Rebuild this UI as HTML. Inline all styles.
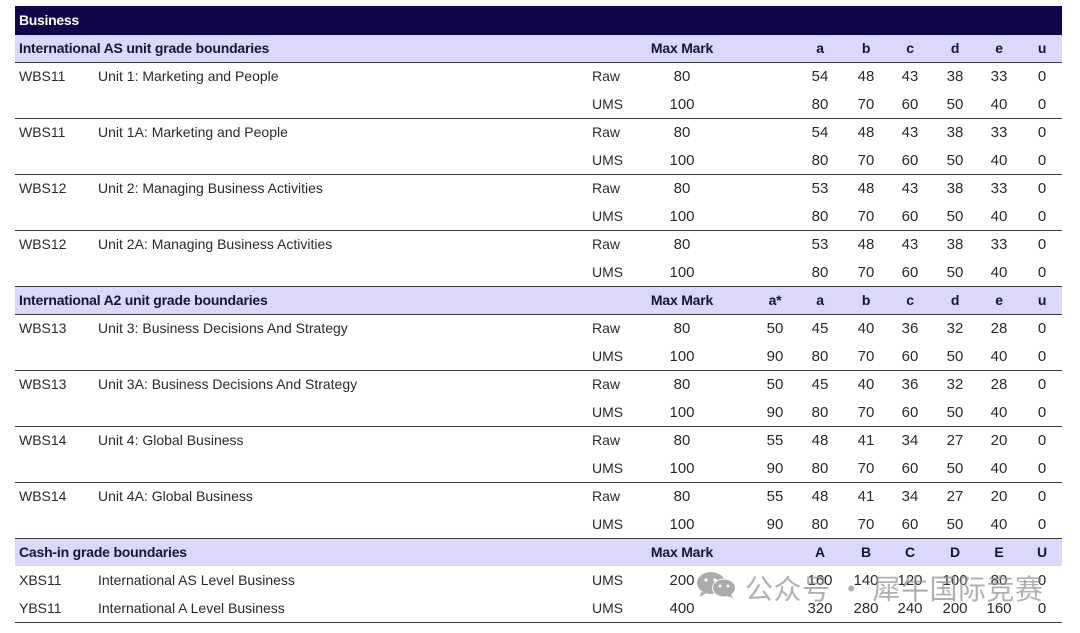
<!DOCTYPE html>
<html>
<head>
<meta charset="utf-8">
<style>
html,body{margin:0;padding:0;background:#fff;}
body{width:1080px;height:633px;position:relative;overflow:hidden;font-family:"Liberation Sans","Noto Sans CJK SC",sans-serif;color:#2a2a2a;font-size:14px;}
.bar{position:absolute;left:15px;width:1047px;}
.navy{background:#0f0749;top:6px;height:29px;color:#fff;font-weight:bold;font-size:14px;line-height:29px;letter-spacing:-0.3px;}
.navy span{position:absolute;left:4px;top:0;}
.lav{background:#dcd8fb;height:27px;}
.ln{position:absolute;left:15px;width:1047px;height:1.6px;background:#3c3c3c;}
.r{position:absolute;left:0;width:1080px;height:28px;line-height:28px;}
.r span{position:absolute;top:0;white-space:nowrap;}
.h{font-weight:bold;color:#15143a;letter-spacing:-0.2px;}
.k{left:19px}.n{left:98px}.t{left:592px}
.m{left:642px;width:80px;text-align:center}
.s{left:745px;width:60px;text-align:center}
.a{left:790px;width:60px;text-align:center}
.b{left:836px;width:60px;text-align:center}
.c{left:880px;width:60px;text-align:center}
.d{left:925px;width:60px;text-align:center}
.e{left:969px;width:60px;text-align:center}
.u{left:1012px;width:60px;text-align:center}
.r:not(.h) span.m,.r:not(.h) span.s,.r:not(.h) span.a,.r:not(.h) span.b,.r:not(.h) span.c,.r:not(.h) span.d,.r:not(.h) span.e,.r:not(.h) span.u{font-size:15px;top:1px;}
.wm{position:absolute;left:745px;top:571px;font-family:"Noto Sans CJK SC",sans-serif;font-size:28px;line-height:34px;color:rgba(150,150,150,0.75);white-space:nowrap;letter-spacing:0.5px;}
</style>
</head>
<body>
<div class="bar navy"><span>Business</span></div>

<div class="bar lav" style="top:35px"></div>
<div class="r h" style="top:34px"><span class="k">International AS unit grade boundaries</span><span class="m">Max Mark</span><span class="a">a</span><span class="b">b</span><span class="c">c</span><span class="d">d</span><span class="e">e</span><span class="u">u</span></div>
<div class="ln" style="top:61.5px"></div>

<div class="r" style="top:62px"><span class="k">WBS11</span><span class="n">Unit 1: Marketing and People</span><span class="t">Raw</span><span class="m">80</span><span class="a">54</span><span class="b">48</span><span class="c">43</span><span class="d">38</span><span class="e">33</span><span class="u">0</span></div>
<div class="r" style="top:90px"><span class="t">UMS</span><span class="m">100</span><span class="a">80</span><span class="b">70</span><span class="c">60</span><span class="d">50</span><span class="e">40</span><span class="u">0</span></div>
<div class="ln" style="top:117.5px"></div>
<div class="r" style="top:118px"><span class="k">WBS11</span><span class="n">Unit 1A: Marketing and People</span><span class="t">Raw</span><span class="m">80</span><span class="a">54</span><span class="b">48</span><span class="c">43</span><span class="d">38</span><span class="e">33</span><span class="u">0</span></div>
<div class="r" style="top:146px"><span class="t">UMS</span><span class="m">100</span><span class="a">80</span><span class="b">70</span><span class="c">60</span><span class="d">50</span><span class="e">40</span><span class="u">0</span></div>
<div class="ln" style="top:173.5px"></div>
<div class="r" style="top:174px"><span class="k">WBS12</span><span class="n">Unit 2: Managing Business Activities</span><span class="t">Raw</span><span class="m">80</span><span class="a">53</span><span class="b">48</span><span class="c">43</span><span class="d">38</span><span class="e">33</span><span class="u">0</span></div>
<div class="r" style="top:202px"><span class="t">UMS</span><span class="m">100</span><span class="a">80</span><span class="b">70</span><span class="c">60</span><span class="d">50</span><span class="e">40</span><span class="u">0</span></div>
<div class="ln" style="top:229.5px"></div>
<div class="r" style="top:230px"><span class="k">WBS12</span><span class="n">Unit 2A: Managing Business Activities</span><span class="t">Raw</span><span class="m">80</span><span class="a">53</span><span class="b">48</span><span class="c">43</span><span class="d">38</span><span class="e">33</span><span class="u">0</span></div>
<div class="r" style="top:258px"><span class="t">UMS</span><span class="m">100</span><span class="a">80</span><span class="b">70</span><span class="c">60</span><span class="d">50</span><span class="e">40</span><span class="u">0</span></div>
<div class="ln" style="top:285.5px"></div>

<div class="bar lav" style="top:287px"></div>
<div class="r h" style="top:286px"><span class="k">International A2 unit grade boundaries</span><span class="m">Max Mark</span><span class="s">a*</span><span class="a">a</span><span class="b">b</span><span class="c">c</span><span class="d">d</span><span class="e">e</span><span class="u">u</span></div>
<div class="ln" style="top:313.5px"></div>

<div class="r" style="top:314px"><span class="k">WBS13</span><span class="n">Unit 3: Business Decisions And Strategy</span><span class="t">Raw</span><span class="m">80</span><span class="s">50</span><span class="a">45</span><span class="b">40</span><span class="c">36</span><span class="d">32</span><span class="e">28</span><span class="u">0</span></div>
<div class="r" style="top:342px"><span class="t">UMS</span><span class="m">100</span><span class="s">90</span><span class="a">80</span><span class="b">70</span><span class="c">60</span><span class="d">50</span><span class="e">40</span><span class="u">0</span></div>
<div class="ln" style="top:369.5px"></div>
<div class="r" style="top:370px"><span class="k">WBS13</span><span class="n">Unit 3A: Business Decisions And Strategy</span><span class="t">Raw</span><span class="m">80</span><span class="s">50</span><span class="a">45</span><span class="b">40</span><span class="c">36</span><span class="d">32</span><span class="e">28</span><span class="u">0</span></div>
<div class="r" style="top:398px"><span class="t">UMS</span><span class="m">100</span><span class="s">90</span><span class="a">80</span><span class="b">70</span><span class="c">60</span><span class="d">50</span><span class="e">40</span><span class="u">0</span></div>
<div class="ln" style="top:425.5px"></div>
<div class="r" style="top:426px"><span class="k">WBS14</span><span class="n">Unit 4: Global Business</span><span class="t">Raw</span><span class="m">80</span><span class="s">55</span><span class="a">48</span><span class="b">41</span><span class="c">34</span><span class="d">27</span><span class="e">20</span><span class="u">0</span></div>
<div class="r" style="top:454px"><span class="t">UMS</span><span class="m">100</span><span class="s">90</span><span class="a">80</span><span class="b">70</span><span class="c">60</span><span class="d">50</span><span class="e">40</span><span class="u">0</span></div>
<div class="ln" style="top:481.5px"></div>
<div class="r" style="top:482px"><span class="k">WBS14</span><span class="n">Unit 4A: Global Business</span><span class="t">Raw</span><span class="m">80</span><span class="s">55</span><span class="a">48</span><span class="b">41</span><span class="c">34</span><span class="d">27</span><span class="e">20</span><span class="u">0</span></div>
<div class="r" style="top:510px"><span class="t">UMS</span><span class="m">100</span><span class="s">90</span><span class="a">80</span><span class="b">70</span><span class="c">60</span><span class="d">50</span><span class="e">40</span><span class="u">0</span></div>
<div class="ln" style="top:537.5px"></div>

<div class="bar lav" style="top:539px"></div>
<div class="r h" style="top:538px"><span class="k">Cash-in grade boundaries</span><span class="m">Max Mark</span><span class="a">A</span><span class="b">B</span><span class="c">C</span><span class="d">D</span><span class="e">E</span><span class="u">U</span></div>

<div class="r" style="top:566px"><span class="k">XBS11</span><span class="n">International AS Level Business</span><span class="t">UMS</span><span class="m">200</span><span class="a">160</span><span class="b">140</span><span class="c">120</span><span class="d">100</span><span class="e">80</span><span class="u">0</span></div>
<div class="r" style="top:594px"><span class="k">YBS11</span><span class="n">International A Level Business</span><span class="t">UMS</span><span class="m">400</span><span class="a">320</span><span class="b">280</span><span class="c">240</span><span class="d">200</span><span class="e">160</span><span class="u">0</span></div>
<div class="ln" style="top:621.5px"></div>

<svg style="position:absolute;left:696px;top:572px" width="42" height="26" viewBox="0 0 42 26">
  <ellipse cx="15" cy="11" rx="14" ry="11" fill="rgba(150,150,150,0.8)"/>
  <path d="M5 20 L4 25 L10 21 Z" fill="rgba(150,150,150,0.8)"/>
  <ellipse cx="28" cy="16" rx="12" ry="9.5" fill="#fff"/>
  <ellipse cx="28" cy="16" rx="11" ry="8.5" fill="rgba(150,150,150,0.8)"/>
  <path d="M35 22 L37 26 L31 24 Z" fill="rgba(150,150,150,0.8)"/>
  <circle cx="10" cy="8" r="1.6" fill="#fff"/><circle cx="19" cy="8" r="1.6" fill="#fff"/>
  <circle cx="24" cy="14" r="1.4" fill="#fff"/><circle cx="32" cy="14" r="1.4" fill="#fff"/>
</svg>
<div class="wm">公众号 · 犀牛国际竞赛</div>
</body>
</html>
